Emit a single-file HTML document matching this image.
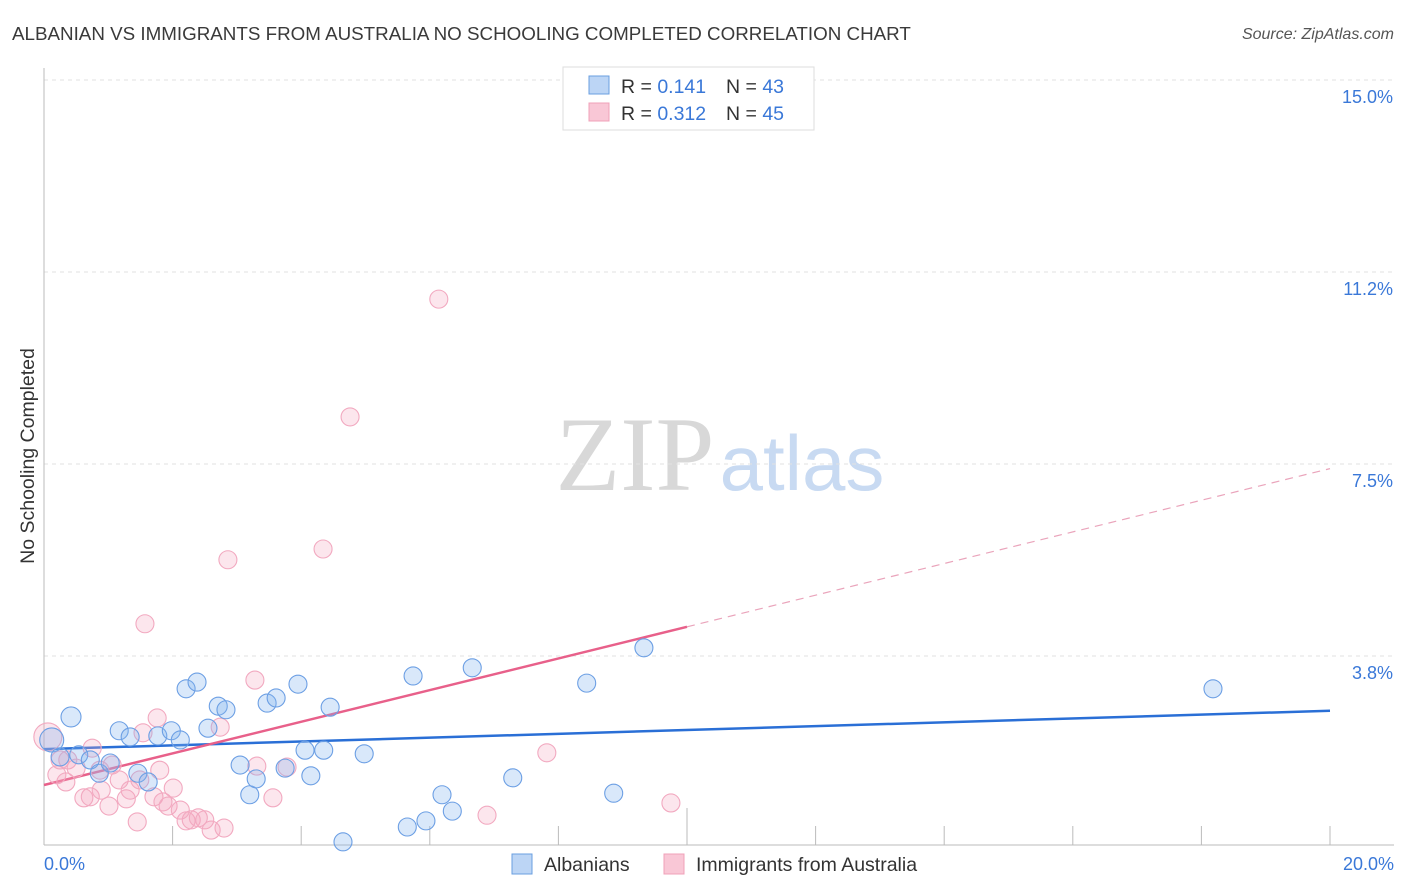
<!DOCTYPE html>
<html><head><meta charset="utf-8"><style>
body{margin:0;background:#fff;font-family:"Liberation Sans",sans-serif;}
svg{display:block}
</style></head><body>
<svg id="chart" width="1406" height="892">
<text x="12" y="40" font-size="18.8" fill="#3a3a3a">ALBANIAN VS IMMIGRANTS FROM AUSTRALIA NO SCHOOLING COMPLETED CORRELATION CHART</text>
<text x="1394" y="39" font-size="16" fill="#555" font-style="italic" text-anchor="end">Source: ZipAtlas.com</text>
<text transform="translate(34,456) rotate(-90)" font-size="19.5" fill="#333" text-anchor="middle">No Schooling Completed</text>
<text x="635" y="490" font-size="106" fill="#d8d8d8" text-anchor="middle" font-family="Liberation Serif,serif">ZIP</text>
<text x="802" y="490" font-size="78" fill="#c8daf2" text-anchor="middle">atlas</text>
<g id="grid"></g><g id="axes"></g><g id="trends"></g><g id="points"></g>
<g>
<rect x="563" y="67" width="251" height="63" fill="#fff" stroke="#ddd"/>
<rect x="589" y="76" width="20" height="18" fill="#bcd5f5" stroke="#6a9fe0"/>
<rect x="589" y="103" width="20" height="18" fill="#f9c7d6" stroke="#f0a0b8"/>
<text x="621" y="93" font-size="19.5" fill="#333">R = <tspan fill="#3a78d8">0.141</tspan></text>
<text x="726" y="93" font-size="19.5" fill="#333">N = <tspan fill="#3a78d8">43</tspan></text>
<text x="621" y="120" font-size="19.5" fill="#333">R = <tspan fill="#3a78d8">0.312</tspan></text>
<text x="726" y="120" font-size="19.5" fill="#333">N = <tspan fill="#3a78d8">45</tspan></text>
</g>
<g>
<rect x="512" y="854" width="20" height="20" fill="#bcd5f5" stroke="#6a9fe0"/>
<text x="544" y="871" font-size="19.5" fill="#333">Albanians</text>
<rect x="664" y="854" width="20" height="20" fill="#f9c7d6" stroke="#f0a0b8"/>
<text x="696" y="871" font-size="19.5" fill="#333">Immigrants from Australia</text>
</g>
</svg>
<script>
const yTicks=[3.75,7.5,11.25,15];
const yTickLabels=["3.8%","7.5%","11.2%","15.0%"];
const xTickLabels=["0.0%","20.0%"];
const blueX=[0.42,0.12,0.25,0.54,0.72,0.86,1.03,1.17,1.34,1.46,1.62,1.77,1.98,2.12,2.21,2.38,2.55,2.71,2.83,3.05,3.20,3.30,3.47,3.61,3.75,3.95,4.06,4.15,4.35,4.45,4.65,4.98,5.65,5.74,5.94,6.19,6.35,6.66,7.29,8.44,8.86,9.33,18.18];
const blueY=[2.56,2.11,1.78,1.82,1.72,1.46,1.66,2.29,2.17,1.46,1.29,2.19,2.29,2.11,3.11,3.24,2.34,2.77,2.70,1.62,1.04,1.35,2.83,2.93,1.56,3.20,1.91,1.41,1.91,2.75,0.12,1.84,0.41,3.36,0.53,1.04,0.72,3.52,1.37,3.22,1.07,3.91,3.11];
const pinkX=[0.06,0.20,0.34,0.50,0.62,0.72,0.75,0.89,1.01,1.06,1.17,1.28,1.34,1.45,1.57,1.54,1.71,1.76,1.85,1.93,2.01,2.21,2.29,2.40,2.50,2.60,2.74,2.80,2.86,3.28,3.31,3.56,3.78,4.34,4.76,6.14,6.89,7.82,9.75,0.25,0.37,0.87,1.49,1.80,2.12];
const pinkY=[2.17,1.43,1.29,1.56,0.98,1.00,1.95,1.13,0.82,1.62,1.33,0.96,1.13,0.51,4.38,2.25,1.00,2.54,0.90,0.82,1.17,0.53,0.55,0.59,0.55,0.35,2.36,0.39,5.63,3.28,1.60,0.98,1.58,5.84,8.42,10.72,0.64,1.86,0.88,1.72,1.72,1.52,1.33,1.52,0.74];
const blueTrend=[1.93,2.68];
const pinkTrend=[1.23,7.41];
const pinkSolidEnd=10;
const NS="http://www.w3.org/2000/svg";
const X0=44,X1=1330,Y0=848,Ytop=80;
const sx=v=>X0+v/20*(X1-X0);
const sy=v=>Y0-v/15*(Y0-Ytop);
function mk(tag,attrs,parent){const e=document.createElementNS(NS,tag);for(const k in attrs)e.setAttribute(k,attrs[k]);document.getElementById(parent).appendChild(e);return e;}
yTicks.forEach((t,i)=>{
  const l=mk('line',{x1:X0,x2:1394,y1:sy(t),y2:sy(t),stroke:'#e2e2e2','stroke-dasharray':'4,4'},'grid');
  
  
  const tx=mk('text',{x:1393,y:sy(t)+23,'font-size':18,fill:'#3a78d8','text-anchor':'end'},'grid');
  tx.textContent=yTickLabels[i];
  
  
});
const ax=mk('line',{x1:X0,x2:X0,y1:68,y2:845,stroke:'#bbb'},'axes');


const bx=mk('line',{x1:X0,x2:1394,y1:845,y2:845,stroke:'#bbb'},'axes');


for(let i=1;i<=10;i++){
  const t=mk('line',{x1:sx(i*2),x2:sx(i*2),y1:i==5?808:826,y2:845,stroke:'#bbb'},'axes');
  
  
}
[[0,'start',44],[20,'end',1394]].forEach((d,i)=>{
  const t=mk('text',{x:d[2],y:870,'font-size':18,fill:'#3a78d8','text-anchor':d[1]},'axes');
  t.textContent=xTickLabels[i];
  
  
});
pinkX.forEach((x,i)=>{
  const c=mk('circle',{cx:sx(x),cy:sy(pinkY[i]),r:i==0?14:9,fill:'rgba(245,165,192,0.28)',stroke:'#f2a9c0','stroke-width':1.1},'points');
  
  
});
blueX.forEach((x,i)=>{
  const c=mk('circle',{cx:sx(x),cy:sy(blueY[i]),r:i==1?12:(i==0?10:9),fill:'rgba(130,178,238,0.3)',stroke:'#6c9fe4','stroke-width':1.1},'points');
  
  
});
const bl=mk('line',{x1:sx(0),y1:sy(blueTrend[0]),x2:sx(20),y2:sy(blueTrend[1]),stroke:'#2a6fd6','stroke-width':2.5},'trends');


const pAt=x=>pinkTrend[0]+(pinkTrend[1]-pinkTrend[0])*x/20;
const pl=mk('line',{x1:sx(0),y1:sy(pAt(0)),x2:sx(pinkSolidEnd),y2:sy(pAt(pinkSolidEnd)),stroke:'#e8608a','stroke-width':2.5},'trends');


const pd=mk('line',{x1:sx(pinkSolidEnd),y1:sy(pAt(pinkSolidEnd)),x2:sx(20),y2:sy(pAt(20)),stroke:'#eaa4bb','stroke-width':1.2,'stroke-dasharray':'8,6'},'trends');


</script>
</body></html>
